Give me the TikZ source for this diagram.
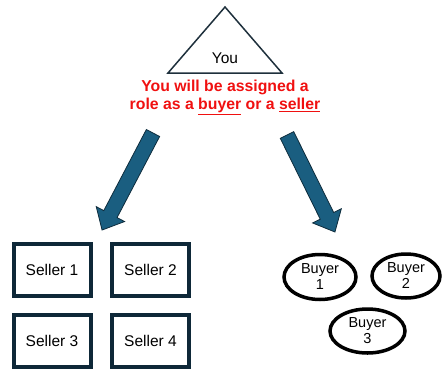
\documentclass[tikz,border=0pt]{standalone}
\usepackage{fontspec}
\setmainfont{Liberation Sans}
\usetikzlibrary{shapes.geometric}
\definecolor{arrowfill}{RGB}{26,94,128}
\definecolor{arrowline}{RGB}{14,44,60}
\definecolor{boxcol}{RGB}{14,40,56}
\definecolor{tricol}{RGB}{30,48,60}
\definecolor{redtext}{RGB}{240,16,16}
\newcommand\fatarrow[3]{%
  \begin{scope}[shift={(#1)}, rotate=#2]
    \draw[bigarrow] (0,7.5) -- ({#3-18},7.5) -- ({#3-18},16) -- (#3,0)
      -- ({#3-18},-16) -- ({#3-18},-7.5) -- (0,-7.5) -- cycle;
  \end{scope}}
\newcommand\redul[1]{\textcolor{redtext}{\underline{#1}}}
\begin{document}
\begin{tikzpicture}[x=1pt,y=1pt,
  txt/.style={font=\fontsize{15.5}{17}\selectfont},
  btxt/.style={font=\fontsize{14.5}{16}\selectfont},
  redtxt/.style={font=\fontsize{15.8}{18.5}\selectfont\bfseries\color{redtext}, text=redtext, align=center},
  tri/.style={draw=tricol, line width=1.5pt, line join=miter},
  sellerbox/.style={draw=boxcol, line width=4pt, minimum width=77pt, minimum height=52pt, inner sep=0pt, txt},
  buyerell/.style={draw=black, ellipse, line width=3.5pt, inner sep=0pt, align=center, btxt},
  bigarrow/.style={fill=arrowfill, draw=arrowline, line width=0.8pt, line join=miter}]
\useasboundingbox (0,0) rectangle (443,373);
% triangle
\coordinate (apex) at (225,366);
\coordinate (bl) at (168,300);
\coordinate (br) at (282,300);
\draw[tri] (apex) -- (bl) -- (br) -- cycle;
\node[txt] (you) at (225,315) {You};
\node[redtxt] (role) at (225,275.5) {You will be assigned a\\role as a \redul{buyer} or a \redul{seller}};
% arrows
\coordinate (ltail) at (153,240);
\coordinate (rtail) at (287,238);
\fatarrow{ltail}{-117.7}{109.6}
\fatarrow{rtail}{-63.7}{108.2}
% sellers
\node[sellerbox] (s1) at (52,103) {Seller 1};
\node[sellerbox] (s2) at (150.5,103) {Seller 2};
\node[sellerbox] (s3) at (52,32) {Seller 3};
\node[sellerbox] (s4) at (150.5,32) {Seller 4};
% buyers
\node[buyerell, minimum width=72pt, minimum height=45pt] (b1) at (320,96) {Buyer\\1};
\node[buyerell, minimum width=68pt, minimum height=44pt] (b2) at (406,97) {Buyer\\2};
\node[buyerell, minimum width=75pt, minimum height=44pt] (b3) at (367.5,42) {Buyer\\3};
\end{tikzpicture}
\end{document}
